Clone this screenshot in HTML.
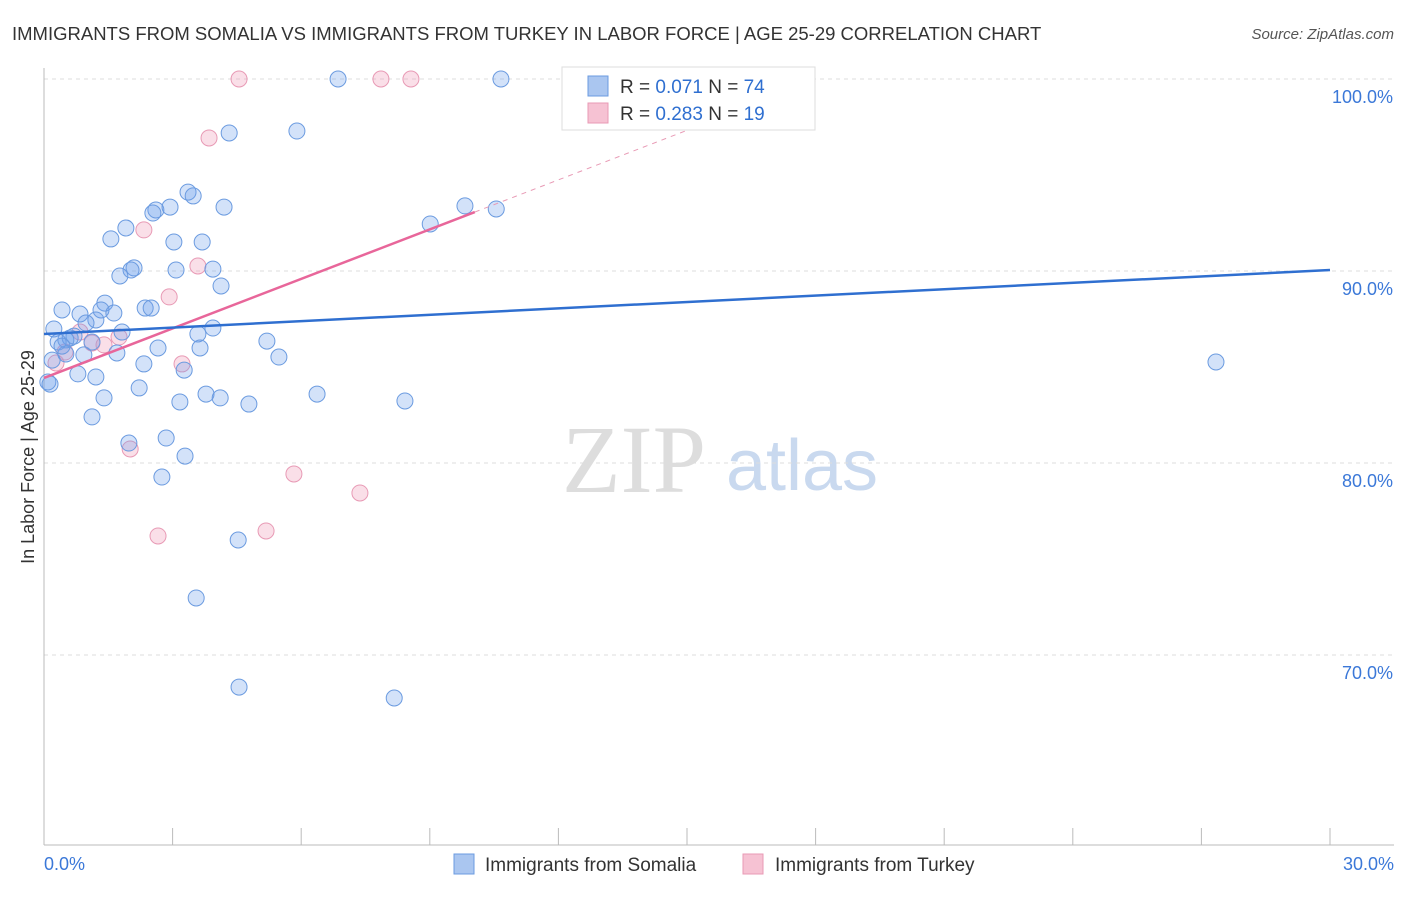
<!DOCTYPE html>
<html><head><meta charset="utf-8">
<style>
body{margin:0;background:#fff;font-family:"Liberation Sans",sans-serif;}
svg text{font-family:"Liberation Sans",sans-serif;}
</style></head>
<body>
<svg id="chart" width="1406" height="892" viewBox="0 0 1406 892" xmlns="http://www.w3.org/2000/svg">
<text x="12" y="40" font-size="18.5" fill="#333">IMMIGRANTS FROM SOMALIA VS IMMIGRANTS FROM TURKEY IN LABOR FORCE | AGE 25-29 CORRELATION CHART</text>
<text x="1394" y="39" font-size="15" fill="#555" font-style="italic" text-anchor="end">Source: ZipAtlas.com</text>
<text transform="translate(34,457) rotate(-90)" font-size="18" fill="#333" text-anchor="middle">In Labor Force | Age 25-29</text>
<g>
<text x="634" y="492" font-size="96" fill="#ddd" text-anchor="middle" font-family="Liberation Serif" style="font-family:'Liberation Serif',serif">ZIP</text>
<text x="802" y="490" font-size="72" fill="#c9d9ef" text-anchor="middle">atlas</text>
</g>
<g id="grid"></g>
<g id="axes"></g>
<g id="marks"></g>
<g>
<rect x="562" y="67" width="253" height="63" fill="#fff" stroke="#ddd"/>
<rect x="588" y="76" width="20" height="20" fill="#aac6f0" stroke="#6b9be0"/>
<text x="620" y="93" font-size="19" fill="#333">R = <tspan fill="#2f6fd0">0.071</tspan>   N = <tspan fill="#2f6fd0">74</tspan></text>
<rect x="588" y="103" width="20" height="20" fill="#f6c2d3" stroke="#e89ab5"/>
<text x="620" y="120" font-size="19" fill="#333">R = <tspan fill="#2f6fd0">0.283</tspan>   N = <tspan fill="#2f6fd0">19</tspan></text>
</g>
<g>
<rect x="454" y="854" width="20" height="20" fill="#aac6f0" stroke="#6b9be0"/>
<text x="485" y="871" font-size="19" fill="#333">Immigrants from Somalia</text>
<rect x="743" y="854" width="20" height="20" fill="#f6c2d3" stroke="#e89ab5"/>
<text x="775" y="871" font-size="19" fill="#333">Immigrants from Turkey</text>
</g>
</svg>
<script>
const yTicks=[100,90,80,70];
const yTickLabels=["100.0%","90.0%","80.0%","70.0%"];
const xTicks=[0,3,6,9,12,15,18,21,24,27,30];
const xEndLabels=["0.0%","30.0%"];
const somaliaX=[6.86,10.66,4.32,5.90,3.36,3.48,2.61,2.54,2.94,4.20,9.82,10.55,9.01,1.91,1.56,3.03,3.69,2.10,2.03,1.77,3.08,3.94,4.13,0.42,1.42,1.33,1.63,0.84,1.21,2.36,2.50,0.98,0.23,3.94,3.59,1.82,0.70,0.61,0.51,0.33,1.12,5.20,2.66,3.64,1.70,0.93,0.51,5.48,0.19,2.33,3.27,0.79,1.21,0.09,2.22,3.78,6.37,3.17,4.11,1.40,4.78,8.42,1.12,2.85,1.98,3.29,2.75,4.53,3.55,4.55,8.17,27.34,0.14,0.42];
const somaliaY=[100,100,97.19,97.29,94.11,93.91,93.18,93.02,93.33,93.33,93.39,93.23,92.45,92.24,91.67,91.51,91.51,90.16,90.05,89.74,90.05,90.10,89.22,87.97,88.33,87.97,87.81,87.76,87.45,88.07,88.07,87.29,86.98,87.03,86.72,86.82,86.61,86.51,86.41,86.30,86.30,86.35,85.99,85.99,85.73,85.63,85.68,85.52,85.36,85.16,84.84,84.64,84.48,84.22,83.91,83.59,83.59,83.18,83.39,83.39,83.07,83.23,82.40,81.30,81.04,80.36,79.27,75.99,72.97,68.33,67.76,85.26,84.11,86.09];
const turkeyX=[4.55,7.86,8.56,3.85,2.33,3.59,2.92,0.84,1.12,1.75,0.49,0.28,3.22,2.01,5.83,7.37,2.66,5.18,1.40];
const turkeyY=[100,100,100,96.93,92.14,90.26,88.65,86.82,86.25,86.56,85.78,85.21,85.16,80.73,79.43,78.44,76.20,76.46,86.15];
const somaliaTrend=[86.72,90.05];
const turkeyTrend=[84.43,93.07];
const turkeySolidEnd=10.05, turkeyDashEnd=18.0;

const NS="http://www.w3.org/2000/svg";
const X=v=>44+v/30*1286;
const Y=v=>79+(100-v)*19.2;
function mk(tag,attrs,parent){const e=document.createElementNS(NS,tag);for(const k in attrs)e.setAttribute(k,attrs[k]);parent.appendChild(e);return e;}
const grid=document.getElementById('grid'),axes=document.getElementById('axes'),marks=document.getElementById('marks');
yTicks.forEach((t,i)=>{
 const l=mk('line',{x1:44,x2:1394,y1:Y(t),y2:Y(t),stroke:'#ddd','stroke-dasharray':'4,4'},grid);
 
 
 const tx=mk('text',{x:1393,y:Y(t)+24,'font-size':18,fill:'#3b78d8','text-anchor':'end'},axes);
 tx.textContent=yTickLabels[i];
 
 
});
const ax=mk('line',{x1:44,x2:1394,y1:845,y2:845,stroke:'#bbb'},axes);


const ay=mk('line',{x1:44,x2:44,y1:68,y2:845,stroke:'#bbb'},axes);


xTicks.forEach(t=>{
 const l=mk('line',{x1:X(t),x2:X(t),y1:828,y2:845,stroke:'#bbb'},axes);
 
 
});
[[0,'start',44],[30,'end',1394]].forEach((a,i)=>{
 const tx=mk('text',{x:a[2],y:870,'font-size':18,fill:'#3b78d8','text-anchor':a[1]},axes);
 tx.textContent=xEndLabels[i];
 
 
});
turkeyX.forEach((x,i)=>{
 const c=mk('circle',{cx:X(x),cy:Y(turkeyY[i]),r:8,fill:'rgba(240,150,180,0.3)',stroke:'#e89ab5','stroke-width':1},marks);
 
 
});
somaliaX.forEach((x,i)=>{
 const c=mk('circle',{cx:X(x),cy:Y(somaliaY[i]),r:8,fill:'rgba(110,160,235,0.3)',stroke:'#6b9be0','stroke-width':1},marks);
 
 
});
const tY=x=>turkeyTrend[0]+(turkeyTrend[1]-turkeyTrend[0])*x/turkeySolidEnd;
const td=mk('line',{x1:X(turkeySolidEnd),y1:Y(tY(turkeySolidEnd)),x2:X(turkeyDashEnd),y2:Y(tY(turkeyDashEnd)),stroke:'#e89ab5','stroke-dasharray':'5,5','stroke-width':1},marks);


const ts=mk('line',{x1:X(0),y1:Y(turkeyTrend[0]),x2:X(turkeySolidEnd),y2:Y(turkeyTrend[1]),stroke:'#e8669a','stroke-width':2.5},marks);


const bs=mk('line',{x1:X(0),y1:Y(somaliaTrend[0]),x2:X(30),y2:Y(somaliaTrend[1]),stroke:'#2f6fd0','stroke-width':2.5},marks);


</script>
</body></html>
